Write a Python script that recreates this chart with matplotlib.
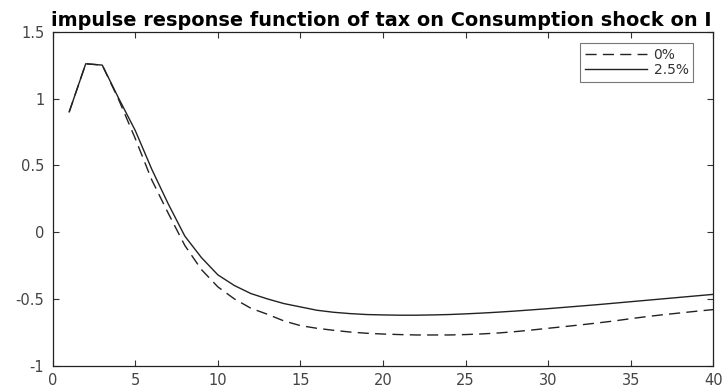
import numpy as np
import matplotlib.pyplot as plt

periods = list(range(1, 41))
irf_0 = [0.90, 1.26, 1.25, 0.99, 0.70, 0.39, 0.14, -0.10, -0.28, -0.41,
         -0.50, -0.57, -0.615, -0.665, -0.70, -0.72, -0.735, -0.748, -0.757, -0.763,
         -0.767, -0.77, -0.77, -0.77, -0.767, -0.762, -0.755, -0.745, -0.733, -0.72,
         -0.707, -0.694, -0.68, -0.665, -0.648, -0.632, -0.618, -0.605, -0.592, -0.58]
irf_25 = [0.90, 1.26, 1.25, 1.00, 0.76, 0.47, 0.21, -0.03, -0.19, -0.32,
          -0.40, -0.46, -0.50, -0.535, -0.56, -0.585, -0.60, -0.61, -0.617, -0.62,
          -0.622, -0.622, -0.62, -0.617, -0.612, -0.606, -0.599, -0.591, -0.582, -0.573,
          -0.563, -0.553, -0.543, -0.532, -0.521, -0.51, -0.499, -0.488, -0.477, -0.466]
labels = ['0%', '2.5%']
xticks = list(range(0, 41, 5))
yticks = [-1, -0.5, 0, 0.5, 1, 1.5]

plt.rcParams['font.family'] = ['DejaVu Sans']
fig = plt.figure(figsize=(7.26, 3.89), dpi=100)
ax = fig.add_axes([0.0726, 0.0599, 0.9099, 0.8586])

ax.plot(periods, irf_0, color='#222222', lw=1.0, ls=(0, (8, 4.5)), label=labels[0])
ax.plot(periods, irf_25, color='#222222', lw=1.0, ls='-', label=labels[1])

ax.set_xlim(0, 40)
ax.set_ylim(-1, 1.5)
ax.set_xticks(xticks)
ax.set_yticks(yticks)
ax.set_yticklabels(['-1', '-0.5', '0', '0.5', '1', '1.5'])
ax.tick_params(direction='in', top=True, right=True, length=4, width=0.8,
               labelsize=10.5, labelcolor='#444444', color='#333333')
ax.tick_params(axis='x', pad=5)
ax.tick_params(axis='y', pad=6)
for s in ax.spines.values():
    s.set_linewidth(0.9)
    s.set_color('#222222')

ax.set_title('impulse response function of tax on Consumption shock on I',
             fontsize=13.9, fontweight='bold', pad=4, x=0.497)

leg = ax.legend(loc='upper right', fontsize=10, frameon=True, fancybox=False,
                handlelength=4.5, handletextpad=0.45, borderpad=0.35, labelspacing=0.1,
                borderaxespad=0, bbox_to_anchor=(0.97, 0.967))
leg.get_frame().set_edgecolor('#555555')
leg.get_frame().set_linewidth(0.8)
for t in leg.get_texts():
    t.set_color('#333333')

fig.savefig('out.png', dpi=100)
